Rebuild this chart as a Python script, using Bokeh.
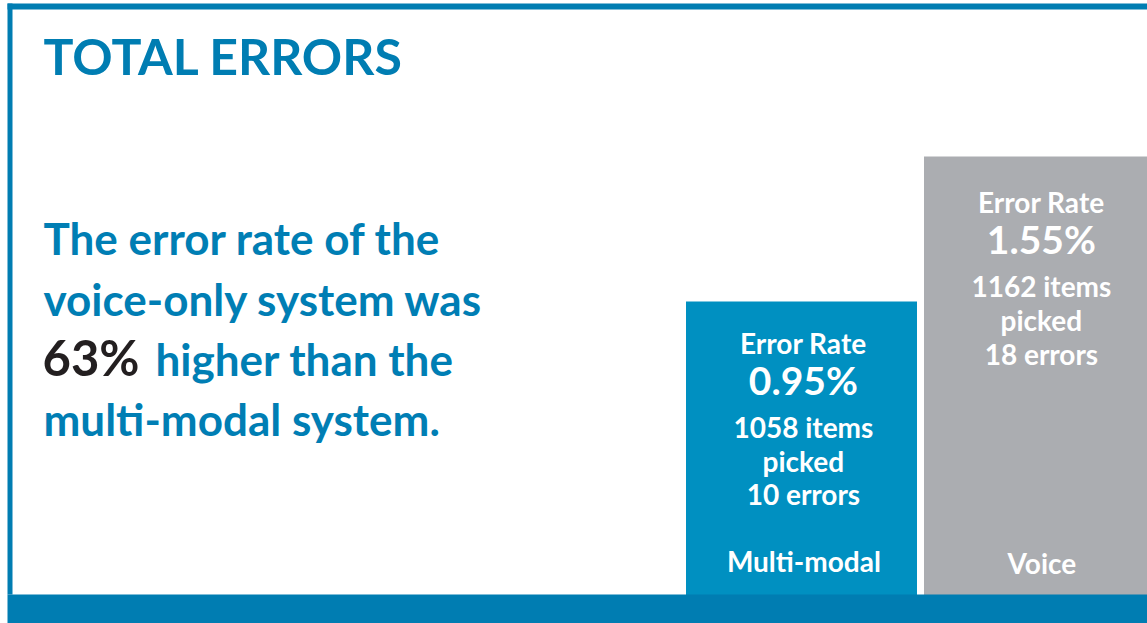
from bokeh.plotting import figure
from bokeh.models import ColumnDataSource, Range1d
from bokeh.embed import file_html
from bokeh.resources import INLINE
from bokeh.core.properties import value

# ---------------- data ----------------
systems = ["Multi-modal", "Voice"]
error_rates = [0.95, 1.55]          # percent
items_picked = [1058, 1162]
errors = [10, 18]
bar_colors = ["#0090C1", "#ABADB1"]

title_text = "TOTAL ERRORS"
highlight_text = "63%"
headline_lines = ["The error rate of the", "voice-only system was",
                  "higher than the", "multi-modal system."]

# ---------------- layout helpers ----------------
W, H = 1147, 623
MARGIN = 0
K = 241.667          # pixels per percentage point
Y0 = 530.58          # reference pixel row of 0 %
CX = 801.0           # canvas x of first category centre
SX = 238.0           # pixels between category centres
BAR_W = 231.0 / SX
BASE_FIX = 0.42      # baseline correction, fraction of font size

def xd(px):
    return (px - MARGIN - CX) / SX

def yd(py):
    return (Y0 - py) / K

def ytxt(py, fs):
    return yd(py - BASE_FIX * fs)

x_start, x_end = xd(MARGIN), xd(MARGIN + W)
y_start, y_end = yd(MARGIN + H), yd(MARGIN)

BLUE_DARK = "#007DB2"
TEXT_BLUE = "#007EB4"
FONT = value("Lato")

p = figure(width=W, height=H, output_backend="svg", toolbar_location=None,
           x_range=Range1d(x_start, x_end), y_range=Range1d(y_start, y_end),
           min_border=0, outline_line_color=None, background_fill_color="white",
           border_fill_color="white")
p.axis.visible = False
p.grid.visible = False

# bars
xs = list(range(len(systems)))
src = ColumnDataSource(dict(x=xs, top=error_rates, color=bar_colors, name=systems))
p.vbar(x="x", top="top", bottom=y_start, width=BAR_W, fill_color="color",
       line_color=None, source=src)

# frame: bottom band, left border, top border
p.quad(left=xd(7), right=x_end, bottom=y_start, top=yd(594),
       fill_color=BLUE_DARK, line_color=None)
p.quad(left=xd(7), right=xd(12), bottom=yd(594), top=yd(3),
       fill_color=BLUE_DARK, line_color=None)
p.quad(left=xd(7), right=x_end, bottom=yd(9), top=yd(3),
       fill_color=BLUE_DARK, line_color=None)

# title
p.text(x=[xd(43)], y=[ytxt(76, 50)], text=[title_text], text_font=FONT,
       text_font_style="bold", text_font_size="50px", text_color=BLUE_DARK,
       text_align="left", text_baseline="alphabetic")

# headline
hl_fs = 44
hl_y = [ytxt(256, hl_fs), ytxt(316.5, hl_fs), ytxt(377, hl_fs), ytxt(437, hl_fs)]
hl_x = [xd(43), xd(43), xd(155), xd(43)]
p.text(x=hl_x, y=hl_y, text=headline_lines, text_font=FONT,
       text_font_style="bold", text_font_size=f"{hl_fs}px", text_color=TEXT_BLUE,
       text_align="left", text_baseline="alphabetic")
p.text(x=[xd(42)], y=[ytxt(377, 49)], text=[highlight_text], text_font=FONT,
       text_font_style="bold", text_font_size="49px", text_color="#231F20",
       text_align="left", text_baseline="alphabetic")

# labels inside bars (baseline offsets below bar tops in px)
off = {"Multi-modal": [53.3, 94.5, 137.3, 171.0, 204.7],
       "Voice": [57.3, 99.0, 141.3, 175.7, 209.0]}
SFS, BFS = 28, 39
small_x, small_y, small_t = [], [], []
big_x, big_y, big_t = [], [], []
for i, (s, r, n, e) in enumerate(zip(systems, error_rates, items_picked, errors)):
    o = off[s]
    cx = i + 0.008
    small_x += [cx] * 4
    small_y += [r - (o[j] - BASE_FIX * SFS) / K for j in (0, 2, 3, 4)]
    small_t += ["Error Rate", f"{n} items", "picked", f"{e} errors"]
    big_x.append(cx)
    big_y.append(r - (o[1] - BASE_FIX * BFS) / K)
    big_t.append(f"{r:.2f}%")

p.text(x=small_x, y=small_y, text=small_t, text_font=FONT, text_font_style="bold",
       text_font_size=f"{SFS}px", text_color="white", text_align="center",
       text_baseline="alphabetic")
p.text(x=big_x, y=big_y, text=big_t, text_font=FONT, text_font_style="bold",
       text_font_size=f"{BFS}px", text_color="white", text_align="center",
       text_baseline="alphabetic")

# category names at bar bottoms
p.text(x=[0.01, 1.01], y=[ytxt(572.5, SFS), ytxt(574, SFS)], text=systems,
       text_font=FONT, text_font_style="bold", text_font_size=f"{SFS}px",
       text_color="white", text_align="center", text_baseline="alphabetic")

open("out.html", "w").write(file_html(p, INLINE))
